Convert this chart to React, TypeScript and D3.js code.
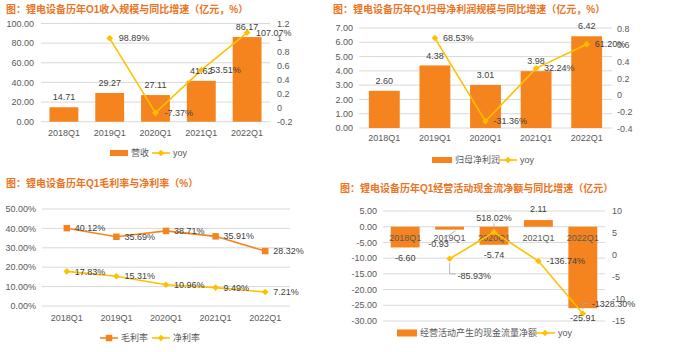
import { useRef, useEffect } from "react";
import * as d3 from "d3";

const quarters = ["2018Q1", "2019Q1", "2020Q1", "2021Q1", "2022Q1"];

// 收入 (亿元) 与同比
const revenue = [14.71, 29.27, 27.11, 41.62, 86.17];
const revenueYoy: (number | null)[] = [null, 0.9889, -0.0737, 0.5351, 1.0707];

// 归母净利润 (亿元) 与同比
const netProfit = [2.6, 4.38, 3.01, 3.98, 6.42];
const netProfitYoy: (number | null)[] = [null, 0.6853, -0.3136, 0.3224, 0.612];

// 毛利率 / 净利率 (%)
const grossMargin = [40.12, 35.69, 38.71, 35.91, 28.32];
const netMargin = [17.83, 15.31, 10.96, 9.49, 7.21];

// 经营活动现金流净额 (亿元) 与同比
const cashFlow = [-6.6, -0.93, -5.74, 2.11, -25.91];
const cashFlowYoy: (number | null)[] = [null, -0.8593, 5.1802, -1.3674, -13.283];

const BAR = "#F5841F";
const LINE = "#FFC000";
const GRID = "#D9D9D9";
const TICK = "#595959";
const LABEL = "#404040";
const TITLE = "#EA7424";
const FONT = "'Liberation Sans','Noto Sans CJK SC',sans-serif";

type G = d3.Selection<SVGGElement, unknown, null, undefined>;

const pct = (v: number) => (v * 100).toFixed(2) + "%";
const short = (v: number) => String(+v.toFixed(1));

function text(g: G, x: number, y: number, s: string, anchor = "start", color = LABEL, size = 9, weight = "normal") {
    return g.append("text")
        .attr("x", x)
        .attr("y", y)
        .attr("dy", "0.35em")
        .attr("text-anchor", anchor)
        .attr("fill", color)
        .attr("font-size", size)
        .attr("font-weight", weight)
        .attr("font-family", FONT)
        .text(s);
}

function diamond(g: G, x: number, y: number, color = LINE) {
    g.append("path")
        .attr("d", d3.symbol().type(d3.symbolSquare).size(22)()!)
        .attr("transform", `translate(${x},${y}) rotate(45)`)
        .attr("fill", color);
}

function square(g: G, x: number, y: number, color = BAR) {
    g.append("path")
        .attr("d", d3.symbol().type(d3.symbolSquare).size(42)()!)
        .attr("transform", `translate(${x},${y})`)
        .attr("fill", color);
}

function grid(g: G, y: d3.ScaleLinear<number, number>, ticks: number[], x0: number, x1: number) {
    g.append("g").selectAll("line").data(ticks).join("line")
        .attr("x1", x0).attr("x2", x1)
        .attr("y1", d => y(d)).attr("y2", d => y(d))
        .attr("stroke", GRID).attr("stroke-width", 1);
}

function ticksLeft(g: G, y: d3.ScaleLinear<number, number>, ticks: number[], x: number, fmt: (v: number) => string) {
    ticks.forEach(t => text(g, x, y(t), fmt(t), "end", TICK));
}

function ticksRight(g: G, y: d3.ScaleLinear<number, number>, ticks: number[], x: number, fmt: (v: number) => string) {
    ticks.forEach(t => text(g, x, y(t), fmt(t), "start", TICK));
}

function yoyLine(g: G, x: d3.ScaleBand<string>, y: d3.ScaleLinear<number, number>, values: (number | null)[]) {
    const pts = quarters.map((q, i) => [x(q)! + x.bandwidth() / 2, values[i]] as [number, number | null])
        .filter(p => p[1] !== null) as [number, number][];
    g.append("path")
        .attr("d", d3.line<[number, number]>().x(p => p[0]).y(p => y(p[1]))(pts)!)
        .attr("fill", "none")
        .attr("stroke", LINE)
        .attr("stroke-width", 1.6);
    pts.forEach(p => diamond(g, p[0], y(p[1])));
}

function legendBar(g: G, x: number, y: number, w: number, h: number, label: string) {
    g.append("rect").attr("x", x).attr("y", y - h / 2).attr("width", w).attr("height", h).attr("fill", BAR);
    text(g, x + w + 3, y, label, "start", TICK);
}

function legendLine(g: G, x: number, y: number, w: number, label: string, color = LINE, marker: "diamond" | "square" = "diamond") {
    g.append("line").attr("x1", x).attr("x2", x + w).attr("y1", y).attr("y2", y)
        .attr("stroke", color).attr("stroke-width", 1.6);
    if (marker === "diamond") diamond(g, x + w / 2, y, color);
    else square(g, x + w / 2, y, color);
    text(g, x + w + 3, y, label, "start", TICK);
}

// 图1: 收入规模与同比
function drawRevenue(g: G) {
    text(g, 6, 9, "图：锂电设备历年O1收入规模与同比增速（亿元，%）", "start", TITLE, 10, "bold");

    const x = d3.scaleBand().domain(quarters).range([41, 270]).paddingInner(0.37).paddingOuter(0.185);
    const y = d3.scaleLinear().domain([0, 100]).range([121.7, 23.5]);
    const yr = d3.scaleLinear().domain([-0.2, 1.2]).range([121.7, 23.5]);
    const lt = d3.range(0, 101, 20);
    const rt = d3.range(-1, 7).map(i => i * 0.2);

    grid(g, y, lt, 41, 270);
    ticksLeft(g, y, lt, 34, v => v.toFixed(2));
    ticksRight(g, yr, rt, 277, short);

    g.append("g").selectAll("rect").data(revenue).join("rect")
        .attr("x", (d, i) => x(quarters[i])!)
        .attr("width", x.bandwidth())
        .attr("y", d => y(d))
        .attr("height", d => y(0) - y(d))
        .attr("fill", BAR);

    quarters.forEach(q => text(g, x(q)! + x.bandwidth() / 2, 133, q, "middle", TICK));

    yoyLine(g, x, yr, revenueYoy);

    revenue.forEach((v, i) => text(g, x(quarters[i])! + x.bandwidth() / 2, y(v) - 10, v.toFixed(2), "middle"));
    revenueYoy.forEach((v, i) => {
        if (v === null) return;
        text(g, x(quarters[i])! + x.bandwidth() / 2 + 9, yr(v), pct(v));
    });

    legendBar(g, 110, 153, 18, 6, "营收");
    legendLine(g, 152, 153, 18, "yoy");
}

// 图2: 归母净利润规模与同比
function drawProfit(g: G) {
    text(g, 333, 9, "图：锂电设备历年Q1归母净利润规模与同比增速（亿元，%）", "start", TITLE, 10, "bold");

    const x = d3.scaleBand().domain(quarters).range([359, 612]).paddingInner(0.39).paddingOuter(0.195);
    const y = d3.scaleLinear().domain([0, 7]).range([128, 28]);
    const yr = d3.scaleLinear().domain([-0.4, 0.8]).range([128.5, 28.5]);
    const lt = d3.range(0, 8);
    const rt = d3.range(-2, 5).map(i => i * 0.2);

    grid(g, y, lt, 359, 612);
    ticksLeft(g, y, lt, 353, v => v.toFixed(2));
    ticksRight(g, yr, rt, 617, short);

    g.append("g").selectAll("rect").data(netProfit).join("rect")
        .attr("x", (d, i) => x(quarters[i])!)
        .attr("width", x.bandwidth())
        .attr("y", d => y(d))
        .attr("height", d => y(0) - y(d))
        .attr("fill", BAR);

    quarters.forEach(q => text(g, x(q)! + x.bandwidth() / 2, 138, q, "middle", TICK));

    yoyLine(g, x, yr, netProfitYoy);

    netProfit.forEach((v, i) => text(g, x(quarters[i])! + x.bandwidth() / 2, y(v) - 10, v.toFixed(2), "middle"));
    netProfitYoy.forEach((v, i) => {
        if (v === null) return;
        text(g, x(quarters[i])! + x.bandwidth() / 2 + 8, yr(v), pct(v));
    });

    legendBar(g, 432, 160, 20, 6, "归母净利润");
    legendLine(g, 499, 160, 18, "yoy");
}

// 图3: 毛利率与净利率
function drawMargins(g: G) {
    text(g, 6, 183, "图：锂电设备历年Q1毛利率与净利率（%）", "start", TITLE, 10, "bold");

    const x = d3.scaleBand().domain(quarters).range([42, 290]);
    const y = d3.scaleLinear().domain([0, 50]).range([306, 209]);
    const lt = d3.range(0, 51, 10);
    const cx = (q: string) => x(q)! + x.bandwidth() / 2;

    grid(g, y, lt, 42, 290);
    ticksLeft(g, y, lt, 36, v => v.toFixed(2) + "%");
    quarters.forEach(q => text(g, cx(q), 318, q, "middle", TICK));

    const line = d3.line<number>().x((d, i) => cx(quarters[i])).y(d => y(d));
    g.append("path").attr("d", line(grossMargin)!).attr("fill", "none").attr("stroke", BAR).attr("stroke-width", 1.6);
    g.append("path").attr("d", line(netMargin)!).attr("fill", "none").attr("stroke", LINE).attr("stroke-width", 1.6);
    grossMargin.forEach((v, i) => square(g, cx(quarters[i]), y(v)));
    netMargin.forEach((v, i) => diamond(g, cx(quarters[i]), y(v)));

    grossMargin.forEach((v, i) => text(g, cx(quarters[i]) + 8, y(v), v.toFixed(2) + "%"));
    netMargin.forEach((v, i) => text(g, cx(quarters[i]) + 8, y(v), v.toFixed(2) + "%"));

    legendLine(g, 100, 338, 18, "毛利率", BAR, "square");
    legendLine(g, 152, 338, 18, "净利率", LINE, "diamond");
}

// 图4: 经营活动现金流净额与同比
function drawCashFlow(g: G) {
    text(g, 340, 188, "图：锂电设备历年Q1经营活动现金流净额与同比增速（亿元）", "start", TITLE, 10, "bold");

    const x = d3.scaleBand().domain(quarters).range([383, 605]).paddingInner(0.35).paddingOuter(0.175);
    const y = d3.scaleLinear().domain([-30, 5]).range([321, 211]);
    const yr = d3.scaleLinear().domain([-15, 10]).range([321, 211]);
    const lt = d3.range(-30, 6, 5);
    const rt = d3.range(-15, 11, 5);
    const cx = (q: string) => x(q)! + x.bandwidth() / 2;

    grid(g, y, lt, 383, 605);
    ticksLeft(g, y, lt, 377, v => v.toFixed(2));
    ticksRight(g, yr, rt, 612, v => String(v));

    g.append("g").selectAll("rect").data(cashFlow).join("rect")
        .attr("x", (d, i) => x(quarters[i])!)
        .attr("width", x.bandwidth())
        .attr("y", d => y(Math.max(0, d)))
        .attr("height", d => Math.abs(y(d) - y(0)))
        .attr("fill", BAR);

    quarters.forEach(q => text(g, cx(q), 238, q, "middle", TICK));

    yoyLine(g, x, yr, cashFlowYoy);

    // bar value labels, -0.93 moved aside with a leader line
    cashFlow.forEach((v, i) => {
        const q = quarters[i];
        if (i === 1) {
            g.append("line").attr("x1", cx(q) + 6).attr("y1", y(v) + 1).attr("x2", cx(q) - 6).attr("y2", y(v) + 9)
                .attr("stroke", "#A6A6A6").attr("stroke-width", 0.8);
            text(g, cx(q) - 11, y(v) + 14, v.toFixed(2), "middle");
            return;
        }
        const yy = v >= 0 ? y(v) - 11 : y(v) + 10;
        text(g, cx(q), yy, v.toFixed(2), "middle");
    });

    // yoy labels
    cashFlowYoy.forEach((v, i) => {
        if (v === null) return;
        const px = cx(quarters[i]);
        const py = yr(v);
        if (i === 1) {
            g.append("path").attr("d", `M${px},${py + 4}V${py + 15}H${px + 6}`)
                .attr("fill", "none").attr("stroke", "#A6A6A6").attr("stroke-width", 0.8);
            text(g, px + 8, py + 17, pct(v));
        } else if (i === 2) {
            g.append("line").attr("x1", px).attr("x2", px).attr("y1", py - 3).attr("y2", py - 9)
                .attr("stroke", "#A6A6A6").attr("stroke-width", 0.8);
            text(g, px, py - 14, pct(v), "middle");
        } else if (i === 4) {
            g.append("path").attr("d", `M${px},${py - 4}V${py - 10}H${px + 6}`)
                .attr("fill", "none").attr("stroke", "#A6A6A6").attr("stroke-width", 0.8);
            text(g, px + 9, py - 10, pct(v));
        } else {
            text(g, px + 8, py, pct(v));
        }
    });

    legendBar(g, 397, 333, 20, 7, "经营活动产生的现金流量净额");
    legendLine(g, 535, 333, 20, "yoy");
}

export default function App() {
    const svgRef = useRef<SVGSVGElement>(null);

    useEffect(() => {
        const svgEl = d3.select<SVGSVGElement, unknown>(svgRef.current as SVGSVGElement);
        svgEl.selectAll("*").remove();
        const root = svgEl.append("g") as unknown as G;
        drawRevenue(root.append("g") as unknown as G);
        drawProfit(root.append("g") as unknown as G);
        drawMargins(root.append("g") as unknown as G);
        drawCashFlow(root.append("g") as unknown as G);
    }, []);

    return (
        <svg
            ref={svgRef}
            width={700}
            height={352}
            style={{ display: "block", position: "absolute", left: 0, top: 0, background: "#fff" }}
        />
    );
}
